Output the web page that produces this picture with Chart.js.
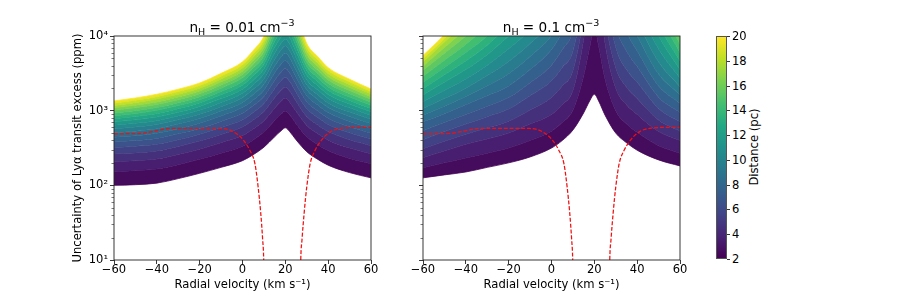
<!DOCTYPE html>
<html>
<head>
<meta charset="utf-8">
<script src="https://cdn.jsdelivr.net/npm/chart.js@4.4.0/dist/chart.umd.min.js"></script>
<style>
  body { margin: 0; background: #fff; width: 913px; height: 297px; overflow: hidden; position: relative; font-family: "DejaVu Sans", sans-serif; color: #000; }
  canvas { position: absolute; top: 0; }
  .ttl { position: absolute; top: 19px; font-size: 13.6px; transform: translateX(-50%); white-space: nowrap; }
  .ttl sub { font-size: 9.5px; vertical-align: -3px; line-height: 0; }
  .ttl sup { font-size: 9.5px; vertical-align: 6px; line-height: 0; }
  #cbar { position: absolute; left: 716px; top: 36px; width: 11px; height: 223px; box-sizing: border-box; border: 0.8px solid #555; }
  .ctick { position: absolute; left: 727px; width: 3px; height: 0; border-top: 0.8px solid #333; }
  .clab { position: absolute; left: 732px; font-size: 11.5px; line-height: 12px; transform: translateY(-50%); }
  #clabel { position: absolute; left: 754px; top: 147px; font-size: 11.6px; white-space: nowrap; transform: translate(-50%, -50%) rotate(-90deg); }
</style>
</head>
<body>
<canvas id="lowChart" width="315" height="297" style="left:68px"></canvas>
<canvas id="highChart" width="302" height="297" style="left:390px"></canvas>
<div class="ttl" style="left:242px">n<sub>H</sub> = 0.01 cm<sup>−3</sup></div>
<div class="ttl" style="left:551px">n<sub>H</sub> = 0.1 cm<sup>−3</sup></div>
<div id="cbar"></div>
<div id="clabel">Distance (pc)</div>
<script>
// radial velocity samples (km/s)
const velocity = [-60, -50, -40, -30, -20, -10, 0, 5, 10, 15, 18, 20, 22, 25, 30, 35, 40, 50, 60];
const distances = [2, 3, 4, 5, 6, 7, 8, 9, 10, 11, 12, 13, 14, 15, 16, 17, 18, 19, 20];

// n_H = 0.01 cm^-3, uncertainty (ppm) per distance (pc)
const lo2  = [100, 102, 107, 123, 145, 174, 214, 257, 324, 447, 537, 589, 525, 407, 282, 224, 186, 148, 126];
const lo3  = [152, 157, 165, 189, 223, 269, 334, 406, 516, 738, 899, 991, 879, 670, 448, 352, 290, 229, 194];
const lo4  = [207, 213, 225, 259, 305, 372, 465, 569, 733, 1080, 1340, 1480, 1310, 979, 632, 493, 403, 316, 264];
const lo5  = [263, 272, 288, 332, 392, 480, 605, 748, 975, 1490, 1870, 2080, 1830, 1340, 838, 647, 524, 407, 339];
const lo6  = [321, 333, 354, 408, 483, 596, 757, 944, 1250, 1970, 2510, 2800, 2450, 1770, 1060, 815, 653, 505, 416];
const lo7  = [380, 397, 424, 489, 579, 718, 920, 1160, 1550, 2540, 3270, 3660, 3190, 2260, 1320, 998, 793, 608, 498];
const lo8  = [442, 462, 497, 573, 679, 847, 1100, 1390, 1880, 3190, 4170, 4700, 4070, 2830, 1590, 1200, 942, 718, 583];
const lo9  = [505, 531, 571, 661, 785, 986, 1290, 1650, 2250, 3950, 5240, 5930, 5120, 3490, 1900, 1410, 1100, 834, 671];
const lo10 = [571, 603, 652, 753, 897, 1130, 1490, 1930, 2660, 4840, 6500, 7400, 6350, 4260, 2230, 1650, 1270, 957, 766];
const lo11 = [638, 676, 733, 849, 1010, 1290, 1710, 2230, 3110, 5860, 7980, 9120, 7800, 5130, 2600, 1900, 1460, 1090, 861];
const lo12 = [708, 753, 820, 951, 1140, 1450, 1940, 2560, 3610, 7050, 9730, 11200, 9510, 6140, 3010, 2180, 1650, 1230, 964];
const lo13 = [780, 834, 912, 1060, 1270, 1630, 2190, 2920, 4170, 8410, 11800, 13600, 11500, 7300, 3450, 2480, 1860, 1370, 1070];
const lo14 = [853, 916, 1010, 1170, 1400, 1810, 2460, 3300, 4780, 9980, 14200, 16400, 13800, 8610, 3940, 2800, 2080, 1520, 1180];
const lo15 = [931, 1000, 1100, 1280, 1540, 2000, 2750, 3720, 5450, 11800, 16900, 19700, 16600, 10100, 4470, 3150, 2320, 1690, 1300];
const lo16 = [1010, 1090, 1210, 1400, 1690, 2210, 3060, 4180, 6180, 13800, 20200, 23600, 19700, 11800, 5050, 3520, 2580, 1860, 1420];
const lo17 = [1090, 1180, 1310, 1530, 1840, 2430, 3380, 4670, 6980, 16200, 23900, 28100, 23400, 13800, 5680, 3930, 2840, 2040, 1540];
const lo18 = [1170, 1280, 1430, 1660, 2000, 2660, 3730, 5200, 7870, 18900, 28300, 33400, 27700, 16000, 6370, 4370, 3130, 2230, 1680];
const lo19 = [1260, 1380, 1540, 1800, 2170, 2900, 4110, 5780, 8850, 22000, 33400, 39600, 32700, 18500, 7130, 4840, 3440, 2430, 1810];
const lo20 = [1350, 1480, 1660, 1940, 2350, 3160, 4510, 6400, 9910, 25500, 39300, 46800, 38400, 21400, 7940, 5350, 3770, 2640, 1950];

// n_H = 0.1 cm^-3
const hi2  = [126, 138, 151, 174, 200, 240, 316, 398, 550, 933, 1380, 1660, 1350, 871, 501, 372, 295, 219, 182];
const hi3  = [172, 200, 232, 269, 316, 398, 531, 692, 1010, 2880, 7410, 12900, 7330, 2630, 1000, 668, 513, 339, 269];
const hi4  = [234, 288, 355, 417, 501, 661, 891, 1200, 1860, 8910, 39800, 1e5, 39800, 7940, 2000, 1200, 891, 525, 398];
const hi5  = [309, 389, 484, 589, 724, 1020, 1500, 2140, 3430, 18800, 1.12e5, 3.16e5, 1.12e5, 17800, 3760, 2070, 1460, 750, 531];
const hi6  = [407, 525, 661, 832, 1050, 1580, 2510, 3800, 6310, 39800, 3.16e5, 1e6, 3.16e5, 39800, 7080, 3550, 2400, 1070, 708];
const hi7  = [537, 692, 891, 1150, 1500, 2370, 4070, 6530, 11900, 79400, 5.62e5, 1.78e6, 5.62e5, 79400, 13300, 6310, 3890, 1510, 944];
const hi8  = [708, 912, 1200, 1580, 2140, 3550, 6610, 11200, 22400, 1.58e5, 1e6, 3.16e6, 1e6, 1.58e5, 25100, 11200, 6310, 2140, 1260];
const hi9  = [871, 1150, 1550, 2160, 3130, 5310, 10200, 18800, 42200, 2.82e5, 1.78e6, 5.62e6, 1.78e6, 2.82e5, 44700, 18800, 10000, 3090, 1620];
const hi10 = [1070, 1450, 2000, 2950, 4570, 7940, 15800, 31600, 79400, 5.01e5, 3.16e6, 1e7, 3.16e6, 5.01e5, 79400, 31600, 15800, 4470, 2090];
const hi11 = [1320, 1860, 2660, 4070, 6760, 11900, 25100, 50100, 1.26e5, 7.94e5, 5.62e6, 1.78e7, 5.62e6, 7.94e5, 1.26e5, 50100, 25100, 6680, 2720];
const hi12 = [1620, 2400, 3550, 5620, 10000, 17800, 39800, 79400, 2e5, 1.26e6, 1e7, 3.16e7, 1e7, 1.26e6, 2e5, 79400, 39800, 10000, 3550];
const hi13 = [1970, 3020, 4620, 7500, 14100, 26600, 63100, 1.26e5, 3.16e5, 2e6, 1.78e7, 5.62e7, 1.78e7, 2e6, 3.16e5, 1.26e5, 63100, 14100, 4620];
const hi14 = [2400, 3800, 6030, 10000, 20000, 39800, 1e5, 2e5, 5.01e5, 3.16e6, 3.16e7, 1e8, 3.16e7, 3.16e6, 5.01e5, 2e5, 1e5, 20000, 6030];
const hi15 = [2880, 4730, 7760, 13800, 28200, 56200, 1.58e5, 3.16e5, 7.94e5, 5.01e6, 5.62e7, 1.78e8, 5.62e7, 5.01e6, 7.94e5, 3.16e5, 1.58e5, 28200, 7760];
const hi16 = [3470, 5890, 10000, 19100, 39800, 79400, 2.51e5, 5.01e5, 1.26e6, 7.94e6, 1e8, 3.16e8, 1e8, 7.94e6, 1.26e6, 5.01e5, 2.51e5, 39800, 10000];
const hi17 = [3940, 7000, 12600, 26000, 56200, 1.12e5, 3.98e5, 7.94e5, 2e6, 1.26e7, 1.78e8, 5.62e8, 1.78e8, 1.26e7, 2e6, 7.94e5, 3.98e5, 56200, 12600];
const hi18 = [4470, 8320, 15800, 35500, 79400, 1.58e5, 6.31e5, 1.26e6, 3.16e6, 2e7, 3.16e8, 1e9, 3.16e8, 2e7, 3.16e6, 1.26e6, 6.31e5, 79400, 15800];
const hi19 = [4950, 9330, 20000, 47300, 1.12e5, 2.24e5, 1e6, 2e6, 5.62e6, 3.16e7, 5.62e8, 1.78e9, 5.62e8, 3.16e7, 5.62e6, 2e6, 1e6, 1.12e5, 20000];
const hi20 = [5500, 10500, 25100, 63100, 1.58e5, 3.16e5, 1.58e6, 3.16e6, 1e7, 5e7, 1e9, 3.16e9, 1e9, 5e7, 1e7, 3.16e6, 1.58e6, 1.58e5, 25100];

// red dashed curve (same in both panels)
const redVel = [-60, -52, -46, -42, -37, -34, -20, -10.5, -4.4, 0.3, 3.4, 5.8, 7.3, 8.5, 9.4, 9.9, 10.3, 18.5, 26.8, 27.2, 27.8, 28.8, 30, 31.6, 33.9, 37, 39, 41, 43, 46, 50, 60];
const redUnc = [490, 492, 501, 525, 562, 579, 580, 578, 525, 407, 295, 195, 95, 43, 19, 10, 2, null, 2, 10, 19, 43, 95, 195, 295, 407, 470, 520, 555, 580, 595, 597];

const xTicks = [-60, -40, -20, 0, 20, 40, 60];
const yTicks = [10, 100, 1000, 10000];
const yTickLabels = ["10¹", "10²", "10³", "10⁴"];
const cbarTicks = [2, 4, 6, 8, 10, 12, 14, 16, 18, 20];

const loCurves = [lo2, lo3, lo4, lo5, lo6, lo7, lo8, lo9, lo10, lo11, lo12, lo13, lo14, lo15, lo16, lo17, lo18, lo19, lo20];
const hiCurves = [hi2, hi3, hi4, hi5, hi6, hi7, hi8, hi9, hi10, hi11, hi12, hi13, hi14, hi15, hi16, hi17, hi18, hi19, hi20];

const VIR = [[68,1,84],[72,36,117],[65,68,135],[53,95,141],[42,120,142],[33,145,140],[34,168,132],[68,191,112],[122,209,81],[189,223,38],[253,231,37]];
function viridis(t) {
  t = Math.max(0, Math.min(1, t)) * (VIR.length - 1);
  const i = Math.min(Math.floor(t), VIR.length - 2), f = t - i;
  const c = VIR[i].map((v, k) => Math.round(v + (VIR[i + 1][k] - v) * f));
  return `rgb(${c[0]},${c[1]},${c[2]})`;
}
const distColor = d => viridis((d - 2) / 18);

const framePlugin = {
  id: "frame",
  afterDraw(chart) {
    const { ctx, chartArea: a, scales: { y } } = chart;
    ctx.save();
    ctx.strokeStyle = "#222";
    ctx.lineWidth = 0.6;
    for (const dec of [10, 100, 1000]) {
      for (let m = 2; m < 10; m++) {
        const py = Math.round(y.getPixelForValue(dec * m)) + 0.5;
        ctx.beginPath(); ctx.moveTo(a.left - 2.5, py); ctx.lineTo(a.left, py); ctx.stroke();
      }
    }
    ctx.lineWidth = 0.9;
    ctx.strokeRect(a.left, a.top, a.right - a.left, a.bottom - a.top);
    ctx.restore();
  }
};

function makePanel(id, curves, showY, yWidth) {
  const datasets = curves.map((vals, i) => ({
    data: velocity.map((v, j) => ({ x: v, y: vals[j] })),
    borderColor: distColor(distances[i]),
    backgroundColor: i ? distColor((distances[i] + distances[i - 1]) / 2) : "transparent",
    borderWidth: 0.8,
    fill: i ? "-1" : false,
    pointRadius: 0,
    cubicInterpolationMode: "monotone",
    order: 1
  }));
  datasets.push({
    data: redVel.map((v, j) => ({ x: v, y: redUnc[j] })),
    borderColor: "#f01010",
    borderWidth: 1.25,
    borderDash: [4, 1.8],
    fill: false,
    pointRadius: 0,
    spanGaps: false,
    cubicInterpolationMode: "monotone",
    order: -1
  });
  const tickFont = { family: "DejaVu Sans", size: 11.5 };
  const titleFont = { family: "DejaVu Sans", size: 11.6 };
  new Chart(document.getElementById(id), {
    type: "line",
    data: { datasets },
    plugins: [framePlugin],
    options: {
      responsive: false,
      animation: false,
      events: [],
      layout: { padding: { top: 36, right: 12, left: 0, bottom: 0 } },
      plugins: { legend: { display: false }, tooltip: { enabled: false } },
      scales: {
        x: {
          type: "linear", min: -60, max: 60,
          afterBuildTicks: s => { s.ticks = xTicks.map(v => ({ value: v })); },
          afterFit: s => { s.height = 37; },
          ticks: { color: "#000", font: tickFont, padding: -1, maxRotation: 0,
                   callback: v => v < 0 ? "\u2212" + (-v) : String(v) },
          grid: { drawOnChartArea: false, tickLength: 4, tickColor: "#222", tickWidth: 0.9 },
          border: { display: false },
          title: { display: true, text: "Radial velocity (km s⁻¹)", color: "#000", font: titleFont, padding: { top: 0, bottom: 5 } }
        },
        y: {
          type: "logarithmic", min: 10, max: 10000,
          afterBuildTicks: s => { s.ticks = yTicks.map(v => ({ value: v })); },
          afterFit: s => { s.width = yWidth; },
          ticks: { color: "#000", font: tickFont, padding: 2, callback: (v, i) => showY ? yTickLabels[i] : "" },
          grid: { drawOnChartArea: false, tickLength: 4, tickColor: "#222", tickWidth: 0.9 },
          border: { display: false },
          title: { display: showY, text: "Uncertainty of Lyα transit excess (ppm)", color: "#000", font: titleFont, padding: { top: 3, bottom: 0 } }
        }
      }
    }
  });
}

makePanel("lowChart", loCurves, true, 46);
makePanel("highChart", hiCurves, false, 33);

// colorbar
const cbar = document.getElementById("cbar");
cbar.style.background = "linear-gradient(to top, " + VIR.map((c, i) => `rgb(${c}) ${i * 10}%`).join(", ") + ")";
cbarTicks.forEach(v => {
  const py = 259 - (v - 2) / 18 * 223;
  const t = document.createElement("div");
  t.className = "ctick"; t.style.top = py + "px";
  document.body.appendChild(t);
  const l = document.createElement("div");
  l.className = "clab"; l.style.top = py + "px"; l.textContent = v;
  document.body.appendChild(l);
});
</script>
</body>
</html>
